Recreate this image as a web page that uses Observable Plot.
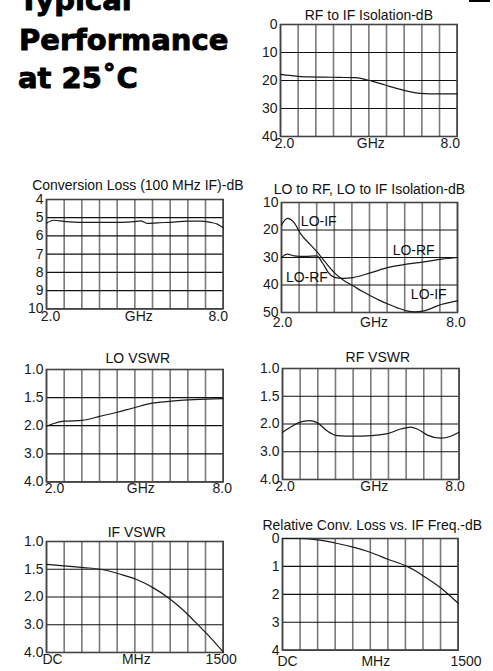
<!DOCTYPE html>
<html><head><meta charset="utf-8">
<script src="https://cdn.jsdelivr.net/npm/d3@7"></script>
<script src="https://cdn.jsdelivr.net/npm/@observablehq/plot@0.6"></script>
<style>
html,body{margin:0;padding:0;background:#fff;}
body{width:493px;height:671px;position:relative;overflow:hidden;font-family:"Liberation Sans",Arial,sans-serif;}
.panel{position:absolute;}
#heading{position:absolute;left:0;top:0;}
#tab{position:absolute;left:469px;top:0;width:21px;height:2px;background:#000;}
</style></head><body>
<svg id="heading" width="260" height="100">
  <g font-family="DejaVu Sans" font-weight="bold" font-size="29" fill="#000" stroke="#000" stroke-width="0.9">
    <text x="19" y="10">Typical</text>
    <text x="19" y="50">Performance</text>
    <text x="18" y="88">at 25˚C</text>
  </g>
</svg>
<div id="tab"></div>
<script>
// ---------- data ----------
const ghzGrid = [2.0, 2.6, 3.2, 3.8, 4.4, 5.0, 5.6, 6.2, 6.8, 7.4, 8.0];
const ghzTicks = [2.0, 5.0, 8.0];
const ghzLabels = ["2.0", "GHz", "8.0"];
const mhzGrid = [0, 150, 300, 450, 600, 750, 900, 1050, 1200, 1350, 1500];
const mhzTicks = [0, 750, 1500];
const mhzLabels = ["DC", "MHz", "1500"];

const isoTicks = [0, 10, 20, 30, 40];
const lossTicks = [4, 5, 6, 7, 8, 9, 10];
const loIsoTicks = [10, 20, 30, 40, 50];
const vswrTicks = [1.0, 1.5, 2.0, 3.0, 4.0];
const relTicks = [0, 1, 2, 3, 4];

// RF to IF Isolation (dB)
const rfIfFreq = [2.0, 2.3, 2.6, 3.0, 3.5, 4.0, 4.5, 4.8, 5.1, 5.4, 5.7, 6.0, 6.3, 6.6, 6.9, 7.2, 8.0];
const rfIfIso  = [17.8, 18.2, 18.5, 18.7, 18.8, 18.9, 19.0, 19.4, 20.2, 21.1, 22.1, 23.0, 23.8, 24.4, 24.7, 24.8, 24.8];

// Conversion Loss (dB)
const clFreq = [2.0, 2.25, 2.59, 3.21, 3.83, 4.51, 4.97, 5.19, 5.42, 5.76, 6.32, 6.78, 7.23, 7.57, 7.8, 8.0];
const clLoss = [5.3, 5.14, 5.2, 5.26, 5.26, 5.26, 5.22, 5.17, 5.31, 5.28, 5.24, 5.19, 5.19, 5.26, 5.35, 5.55];

// LO to IF / LO to RF isolation (dB)
const loIfFreq = [2.0, 2.2, 2.43, 2.66, 3.0, 3.23, 3.5, 3.8, 4.1, 4.44, 4.75, 5.05, 5.35, 5.65, 5.95, 6.26, 6.52, 6.86, 7.15, 7.47, 7.75, 8.0];
const loIfIso  = [18.2, 15.8, 17.3, 21.5, 25.5, 28.2, 31.8, 35.5, 38.2, 40.3, 42.3, 44.0, 45.6, 47.0, 48.3, 49.4, 49.8, 49.4, 48.3, 47.0, 46.3, 45.8];
const loRfFreq = [2.0, 2.2, 2.43, 2.8, 3.2, 3.4, 3.6, 3.8, 4.1, 4.44, 5.05, 5.65, 6.26, 6.86, 7.47, 8.0];
const loRfIso  = [30.0, 28.8, 29.4, 29.6, 29.4, 32.0, 35.5, 37.2, 37.6, 37.3, 35.5, 33.6, 32.4, 31.6, 30.6, 30.0];
const loLabelText = ["LO-IF", "LO-RF", "LO-RF", "LO-IF"];
const loLabelFreq = [2.66, 5.79, 2.15, 6.41];
const loLabelIso  = [17.0, 27.6, 37.4, 43.6];

// LO VSWR
const loVswrFreq = [2.0, 2.25, 2.59, 3.21, 3.83, 4.4, 4.97, 5.65, 6.32, 7.0, 8.0];
const loVswr     = [2.02, 1.96, 1.92, 1.905, 1.83, 1.76, 1.68, 1.595, 1.56, 1.536, 1.52];

// RF VSWR
const rfVswrFreq = [2.0, 2.28, 2.57, 2.91, 3.19, 3.53, 3.87, 4.43, 5.0, 5.57, 6.02, 6.36, 6.58, 6.92, 7.38, 7.72, 8.0];
const rfVswr     = [2.3, 2.11, 1.97, 1.94, 1.98, 2.26, 2.42, 2.44, 2.42, 2.35, 2.18, 2.11, 2.18, 2.4, 2.51, 2.44, 2.3];

// IF VSWR
const ifVswrFreq = [0, 147, 317, 458, 628, 770, 911, 1025, 1138, 1251, 1364, 1500];
const ifVswr     = [1.41, 1.44, 1.47, 1.5, 1.59, 1.69, 1.84, 2.0, 2.39, 2.85, 3.34, 3.98];

// Relative conversion loss vs IF frequency (dB)
const relFreq = [0, 128, 299, 470, 612, 754, 905, 1059, 1153, 1210, 1361, 1500];
const relLoss = [0, 0, 0.05, 0.18, 0.32, 0.5, 0.75, 0.99, 1.2, 1.36, 1.8, 2.32];

// ---------- drawing ----------
const ML = 40, MR = 40, MT = 30, MB = 26;

function panel(o) {
  const W = o.R - o.L, H = o.B - o.T;
  const width = W + ML + MR, height = H + MT + MB;
  const n = o.yTicks.length;
  // the printed axis places its tick values evenly (piecewise-linear between ticks)
  const toPos = d3.scaleLinear().domain(o.yTicks).range(d3.range(n));
  const idx = d3.range(n);
  const marks = [
    Plot.ruleX(o.xGrid, {stroke: "#7a7a7a", strokeWidth: 1.6}),
    Plot.ruleY(idx, {stroke: "#111", strokeWidth: 1.2}),
    Plot.frame({stroke: "#444", strokeWidth: 1.6}),
    ...o.series.map(s => Plot.line(s.x, {x: (d, i) => s.x[i], y: (d, i) => toPos(s.y[i]), stroke: "#1a1a1a", strokeWidth: 1.2, curve: "monotone-x"})),
    Plot.axisY(idx, {tickSize: 0, tickPadding: 3, tickFormat: i => o.yFormat(o.yTicks[i]), label: null, fill: "#1a1a1a"}),
    ...o.xTicks.map((t, i) => Plot.text([t], {x: d => d, text: () => o.xLabels[i], frameAnchor: "bottom", lineAnchor: "middle", dy: o.xDy, dx: o.xDx[i], fill: "#1a1a1a"})),
    Plot.text([o.title], {text: d => d, frameAnchor: "top", lineAnchor: "middle", dy: -o.titleOff, dx: o.titleDx || 0, fill: "#111"})
  ];
  if (o.labels) marks.push(Plot.text(o.labels.t, {x: (d, i) => o.labels.x[i], y: (d, i) => toPos(o.labels.y[i]), text: d => d, textAnchor: "start", lineAnchor: "middle", fill: "#111"}));
  const svg = Plot.plot({
    width, height,
    marginLeft: ML, marginRight: MR, marginTop: MT, marginBottom: MB,
    x: {domain: [o.xGrid[0], o.xGrid[o.xGrid.length - 1]], axis: null},
    y: {domain: [0, n - 1], reverse: true},
    style: {fontFamily: '"Liberation Sans", Arial, sans-serif', fontSize: "14px", background: "transparent", color: "#111", overflow: "visible"},
    marks
  });
  svg.classList.add("panel");
  svg.style.left = (o.L - ML) + "px";
  svg.style.top = (o.T - MT) + "px";
  svg.style.position = "absolute";
  document.body.appendChild(svg);
}

const f1 = d => d.toFixed(1);
const f0 = d => String(d);

panel({L: 280, R: 456.7, T: 24, B: 136, title: "RF to IF Isolation-dB", titleOff: 9, titleDx: 0,
  xGrid: ghzGrid, xTicks: ghzTicks, xLabels: ghzLabels, xDy: 7.5, xDx: [4, 2, -7], yTicks: isoTicks, yFormat: f0,
  series: [{x: rfIfFreq, y: rfIfIso}]});

panel({L: 46, R: 222.7, T: 199, B: 308.3, title: "Conversion Loss (100 MHz IF)-dB", titleOff: 14, titleDx: 3,
  xGrid: ghzGrid, xTicks: ghzTicks, xLabels: ghzLabels, xDy: 8, xDx: [4, 4, -5], yTicks: lossTicks, yFormat: f0,
  series: [{x: clFreq, y: clLoss}]});

panel({L: 280.7, R: 456.7, T: 201.7, B: 311.7, title: "LO to RF, LO to IF Isolation-dB", titleOff: 12.5, titleDx: 0,
  xGrid: ghzGrid, xTicks: ghzTicks, xLabels: ghzLabels, xDy: 10, xDx: [1, 4.5, -1.5], yTicks: loIsoTicks, yFormat: f0,
  series: [{x: loIfFreq, y: loIfIso}, {x: loRfFreq, y: loRfIso}],
  labels: {t: loLabelText, x: loLabelFreq, y: loLabelIso}});

panel({L: 46, R: 222.7, T: 369.3, B: 481.7, title: "LO VSWR", titleOff: 11, titleDx: 3,
  xGrid: ghzGrid, xTicks: ghzTicks, xLabels: ghzLabels, xDy: 7, xDx: [8, 6, -1], yTicks: vswrTicks, yFormat: f1,
  series: [{x: loVswrFreq, y: loVswr}]});

panel({L: 281.7, R: 458.3, T: 368.3, B: 479.3, title: "RF VSWR", titleOff: 11, titleDx: 7,
  xGrid: ghzGrid, xTicks: ghzTicks, xLabels: ghzLabels, xDy: 7.5, xDx: [2.5, 3.5, -4], yTicks: vswrTicks, yFormat: f1,
  series: [{x: rfVswrFreq, y: rfVswr}]});

panel({L: 46, R: 222.7, T: 540.7, B: 651.7, title: "IF VSWR", titleOff: 9, titleDx: 2,
  xGrid: mhzGrid, xTicks: mhzTicks, xLabels: mhzLabels, xDy: 7, xDx: [6, 1.5, -2], yTicks: vswrTicks, yFormat: f1,
  series: [{x: ifVswrFreq, y: ifVswr}]});

panel({L: 281.7, R: 457.3, T: 538.3, B: 650, title: "Relative Conv. Loss vs. IF Freq.-dB", titleOff: 13, titleDx: 2,
  xGrid: mhzGrid, xTicks: mhzTicks, xLabels: mhzLabels, xDy: 11.5, xDx: [5, 5.5, 8], yTicks: relTicks, yFormat: f0,
  series: [{x: relFreq, y: relLoss}]});
</script>
</body></html>
